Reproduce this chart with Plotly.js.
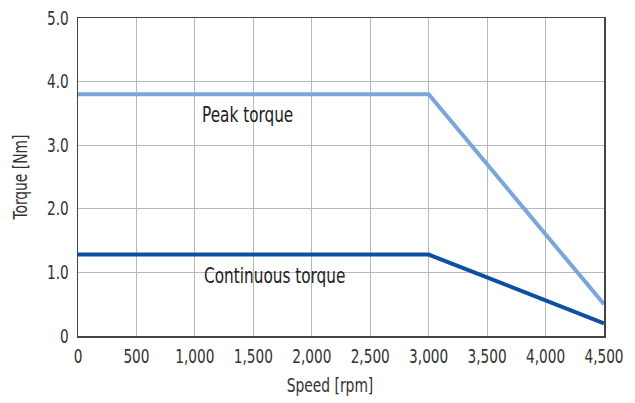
<!DOCTYPE html>
<html><head><meta charset="utf-8">
<script src="https://cdn.plot.ly/plotly-3.0.1.min.js"></script>
<style>body{margin:0;background:#fff}#c{width:635px;height:403px}</style>
</head><body><div id="c"></div>
<script>
const speed = [0, 3000, 4500];
const peakTorque = [3.8, 3.8, 0.5];
const contTorque = [1.28, 1.28, 0.2];
const xTickVals = [0, 500, 1000, 1500, 2000, 2500, 3000, 3500, 4000, 4500];
const xTickText = ["0","500","1,000","1,500","2,000","2,500","3,000","3,500","4,000","4,500"];
const yTickVals = [0, 1, 2, 3, 4, 5];
const yTickText = ["0","1.0","2.0","3.0","4.0","5.0"];
const seriesNames = ["Peak torque", "Continuous torque"];

const F = "'DejaVu Sans Condensed', 'DejaVu Sans', sans-serif";
const traces = [
  {x: speed, y: peakTorque, mode: 'lines', name: seriesNames[0], line: {color: '#7aa7da', width: 4}},
  {x: speed, y: contTorque, mode: 'lines', name: seriesNames[1], line: {color: '#0f4fa1', width: 4}}
];
const layout = {
  width: 635, height: 403,
  margin: {l: 78, r: 31, t: 18, b: 67},
  showlegend: false,
  paper_bgcolor: '#fff', plot_bgcolor: '#fff',
  font: {family: F, size: 18, color: '#333'},
  xaxis: {range: [0, 4500], tickvals: xTickVals, ticktext: xTickText, showgrid: true, gridcolor: '#b8b8b8', gridwidth: 1,
    showline: true, linecolor: '#444', linewidth: 1.5, mirror: true, ticks: '', zeroline: false, ticklabelstandoff: 3,
    title: {text: 'Speed [rpm]', font: {family: F, size: 20, color: '#333'}, standoff: 10}, tickfont: {family: F, size: 19, color: '#333'}},
  yaxis: {range: [0, 5], tickvals: yTickVals, ticktext: yTickText, showgrid: true, gridcolor: '#b8b8b8', gridwidth: 1,
    showline: true, linecolor: '#444', linewidth: 1.5, mirror: true, ticks: '', zeroline: false, ticklabelstandoff: 4,
    title: {text: 'Torque [Nm]', font: {family: F, size: 20, color: '#333'}, standoff: 8}, tickfont: {family: F, size: 19, color: '#333'}},
  annotations: [
    {x: 1045, y: 3.47, xref: 'x', yref: 'y', text: seriesNames[0], showarrow: false, xanchor: 'left', yanchor: 'middle', font: {family: F, size: 21, color: '#222'}},
    {x: 1065, y: 0.94, xref: 'x', yref: 'y', text: seriesNames[1], showarrow: false, xanchor: 'left', yanchor: 'middle', font: {family: F, size: 21, color: '#222'}}
  ]
};
function condense(sel, s) {
  document.querySelectorAll(sel).forEach(t => {
    const x = parseFloat(t.getAttribute('x')) || 0;
    const y = parseFloat(t.getAttribute('y')) || 0;
    const tr = t.getAttribute('transform') || '';
    t.setAttribute('transform', tr + ' translate(' + x + ',' + y + ') scale(' + s + ',1) translate(' + (-x) + ',' + (-y) + ')');
  });
}
Plotly.newPlot('c', traces, layout, {displayModeBar: false, staticPlot: true}).then(() => {
  condense('.xtick text, .ytick text', 0.8);
  condense('.xtitle, .ytitle', 0.77);
  document.querySelectorAll('.xtitle').forEach(t => {
    t.setAttribute('transform', 'translate(-11,1) ' + (t.getAttribute('transform') || ''));
  });
  document.querySelectorAll('.annotation').forEach(g => {
    const t = g.querySelector('text');
    const bb = t.getBBox();
    const cx = bb.x, y = parseFloat(t.getAttribute('y')) || 0;
    const tr = t.getAttribute('transform') || '';
    t.setAttribute('transform', tr + ' translate(' + cx + ',' + y + ') scale(0.81,1) translate(' + (-cx) + ',' + (-y) + ')');
  });
});
</script></body></html>
